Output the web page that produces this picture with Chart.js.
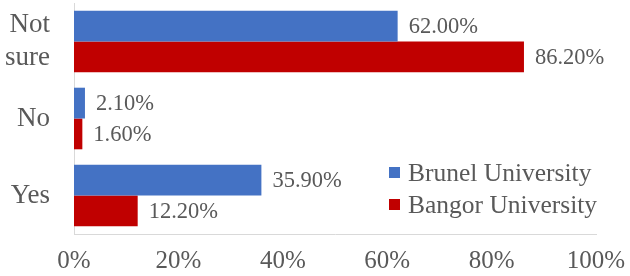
<!DOCTYPE html>
<html>
<head>
<meta charset="utf-8">
<script src="https://cdn.jsdelivr.net/npm/chart.js@4/dist/chart.umd.min.js"></script>
<style>
  html, body { margin: 0; padding: 0; background: #fff; }
  #wrap { width: 630px; height: 276px; }
</style>
</head>
<body>
<div id="wrap"><canvas id="myChart"></canvas></div>
<script>
// categories, top to bottom
const categories = [["Not", "sure"], "No", "Yes"];
const seriesNames = ["Brunel University", "Bangor University"];
const brunel = [62.0, 2.1, 35.9];
const bangor = [86.2, 1.6, 12.2];
const xTicks = [0, 20, 40, 60, 80, 100];

const colors = ["#4472C4", "#C00000"];
const textColor = "#595959";
const serif = "'Liberation Serif', 'Times New Roman', serif";

// write the value at the end of each bar
const valueLabels = {
  id: "valueLabels",
  afterDatasetsDraw(chart) {
    const ctx = chart.ctx;
    ctx.save();
    ctx.font = "22.5px " + serif;
    ctx.fillStyle = textColor;
    ctx.textAlign = "left";
    ctx.textBaseline = "middle";
    chart.data.datasets.forEach((ds, i) => {
      chart.getDatasetMeta(i).data.forEach((bar, j) => {
        ctx.fillText(ds.data[j].toFixed(2) + "%", bar.x + 11, bar.y + 1);
      });
    });
    ctx.restore();
  }
};

// legend inside the plot, lower right
const innerLegend = {
  id: "innerLegend",
  afterDraw(chart) {
    const ctx = chart.ctx;
    const area = chart.chartArea;
    ctx.save();
    ctx.font = "25.5px " + serif;
    ctx.textBaseline = "middle";
    chart.data.datasets.forEach((ds, i) => {
      const y = area.bottom - 61 + i * 32;
      const x = area.left + 315;
      ctx.fillStyle = ds.backgroundColor;
      ctx.fillRect(x, y - 6, 11, 11);
      ctx.fillStyle = textColor;
      ctx.fillText(ds.label, x + 19, y + 1);
    });
    ctx.restore();
  }
};

const ctx = document.getElementById("myChart").getContext("2d");

new Chart(ctx, {
  type: "bar",
  data: {
    labels: categories,
    datasets: [
      { label: seriesNames[0], data: brunel, backgroundColor: colors[0] },
      { label: seriesNames[1], data: bangor, backgroundColor: colors[1] }
    ]
  },
  options: {
    indexAxis: "y",
    responsive: true,
    maintainAspectRatio: false,
    animation: false,
    datasets: {
      bar: { categoryPercentage: 0.8, barPercentage: 1.0 }
    },
    layout: { padding: { top: 3, right: 2, left: 5, bottom: 0 } },
    plugins: {
      legend: { display: false },
      tooltip: { enabled: false }
    },
    scales: {
      x: {
        min: 0,
        max: 100,
        afterBuildTicks(axis) {
          axis.ticks = xTicks.map(v => ({ value: v }));
        },
        afterFit(axis) {
          axis.height = 42;
          axis.paddingLeft = 0;
          axis.paddingRight = 34;
        },
        grid: { display: false, drawTicks: false },
        border: { display: true, color: "#d9d9d9", width: 1 },
        ticks: {
          padding: 12,
          color: textColor,
          font: { family: serif, size: 25 },
          maxRotation: 0,
          callback: v => v + "%"
        }
      },
      y: {
        afterFit(axis) {
          // labels sit inside their bands, no extra room needed above/below
          axis.paddingTop = 0;
          axis.paddingBottom = 0;
          axis.width = 69;
        },
        grid: { display: false, drawTicks: false },
        border: { display: true, color: "#d9d9d9", width: 1 },
        ticks: {
          padding: 24,
          color: textColor,
          font: { family: serif, size: 27, lineHeight: 1.22 }
        }
      }
    }
  },
  plugins: [valueLabels, innerLegend]
});
</script>
</body>
</html>
